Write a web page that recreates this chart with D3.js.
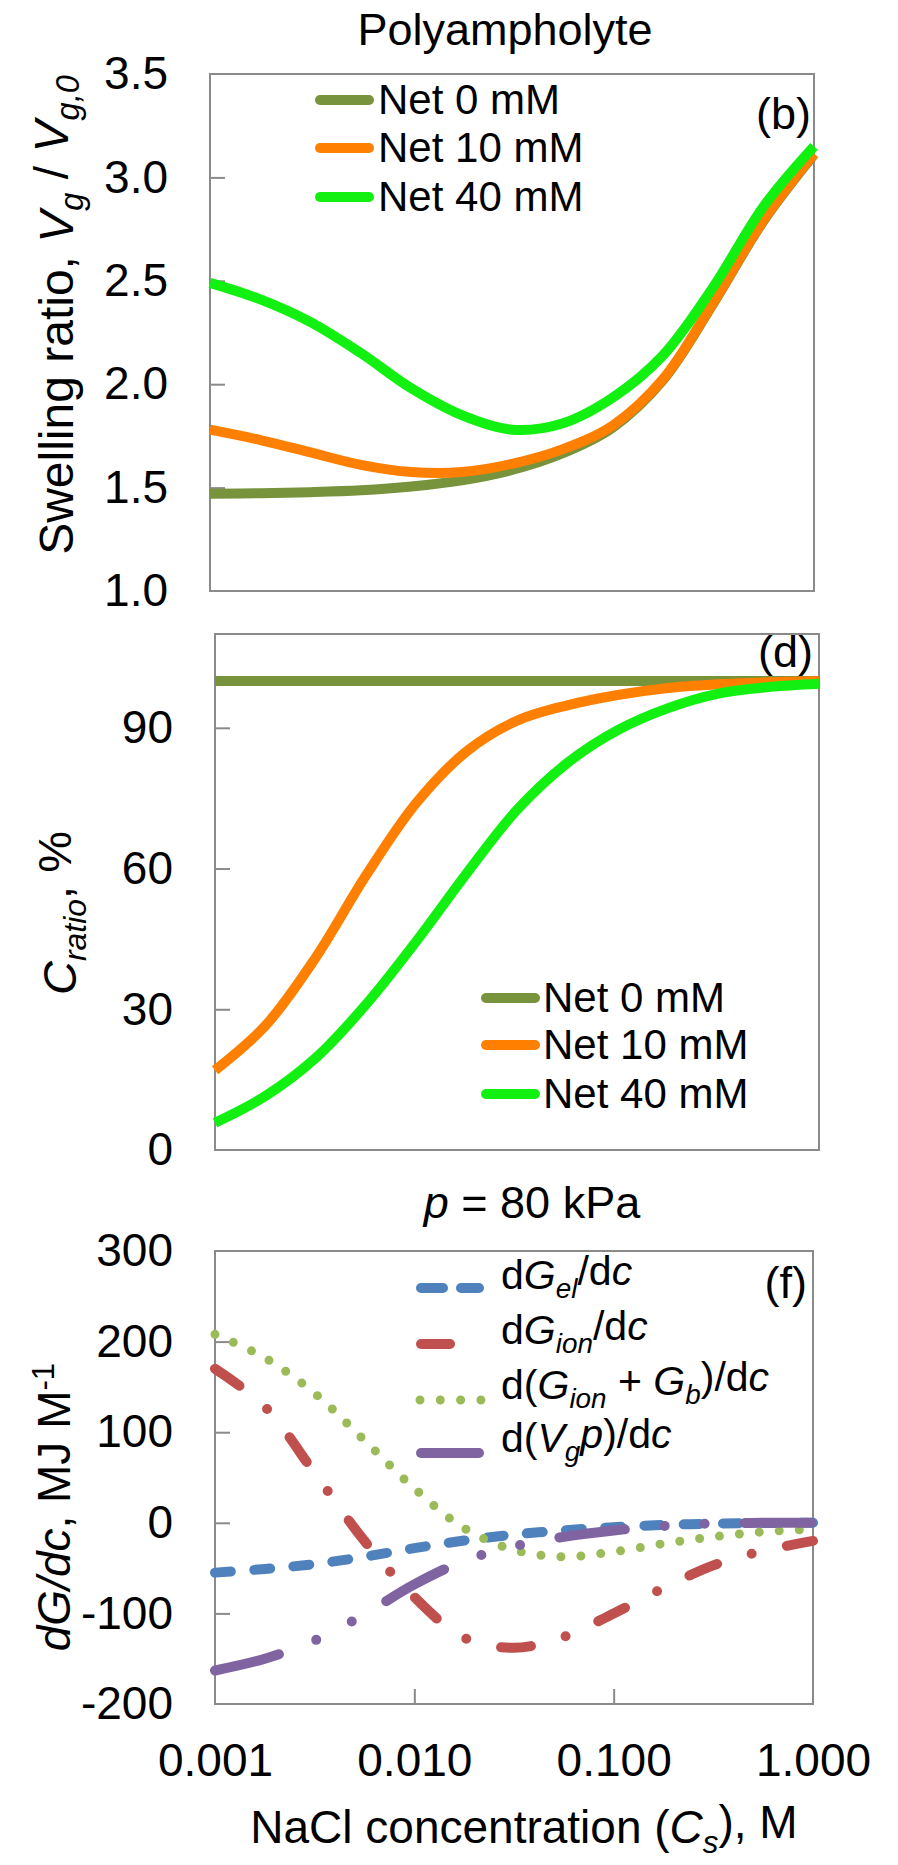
<!DOCTYPE html>
<html><head><meta charset="utf-8">
<script src="https://cdn.jsdelivr.net/npm/d3@7"></script>
<style>
body{margin:0;background:#fff}
svg{display:block;background:#fff}
text{font-family:"Liberation Sans",Arial,sans-serif;fill:#000}
</style>
</head><body>
<svg id="chart" width="898" height="1865"></svg>
<script>
// ---------- DATA ----------
const concentration = [0.001,0.00178,0.00316,0.00562,0.01,0.0178,0.0316,0.0562,0.1,0.178,0.316,0.562,1.0];

const swellNet0  = [1.47,1.473,1.478,1.487,1.505,1.535,1.585,1.665,1.79,2.02,2.39,2.79,3.11];
const swellNet10 = [1.78,1.73,1.67,1.61,1.575,1.575,1.615,1.685,1.80,2.025,2.395,2.795,3.115];
const swellNet40 = [2.49,2.41,2.30,2.15,1.98,1.85,1.78,1.81,1.935,2.14,2.47,2.86,3.15];

const cratioNet0  = [100,100,100,100,100,100,100,100,100,100,100,100,100];
const cratioNet10 = [17,26.5,41,58.5,74,85,91.5,94.8,97,98.5,99.3,99.7,100];
const cratioNet40 = [5.8,11.5,19.6,31,44.5,59,72.5,82.5,89.5,94.2,97.3,98.7,99.4];

const dGel    = [-55,-51,-45.5,-37.5,-28,-19.5,-13,-8.3,-4.8,-2.4,-0.9,-0.2,0];
const dGion   = [170,128,55,-20,-82,-127,-138,-126,-100,-72,-47,-31,-20];
const dGionGb = [208,182,143,91,38,-6,-30,-37.5,-32,-23,-15.5,-10,-7];
const dVgp    = [-163,-150,-130,-101,-68,-42,-26,-15.5,-8.5,-3.5,-0.8,0,0];

const netLabels = ["Net 0 mM","Net 10 mM","Net 40 mM"];
const swellTicks = [1.0,1.5,2.0,2.5,3.0,3.5];
const cratioTicks = [0,30,60,90];
const dgTicks = [-200,-100,0,100,200,300];
const xTicks = [0.001,0.01,0.1,1];

// ---------- STYLE ----------
const netColors = ["#77933C","#FF8000","#12F012"];
const frameColor = "#8a8a8a";
const svg = d3.select("#chart");

function rich(sel, parts){
  let shift = 0;
  parts.forEach(([t, st]) => {
    st = st || "";
    const sp = sel.append("tspan").text(t);
    if (st.includes("i")) sp.attr("font-style","italic");
    let target = 0;
    if (st.includes("sub")) { sp.attr("font-size","0.68em"); target = 0.32; }
    if (st.includes("sup")) { sp.attr("font-size","0.68em"); target = -0.5; }
    const dy = target - shift;
    if (dy !== 0) sp.attr("dy", dy + "em");
    shift = target;
  });
}

function frame(x0,x1,y0,y1){
  svg.append("rect").attr("x",x0).attr("y",y0).attr("width",x1-x0).attr("height",y1-y0)
    .attr("fill","none").attr("stroke",frameColor).attr("stroke-width",2);
}

function yAxis(y, x0, ticks, inner, fmt){
  const g = svg.append("g").attr("transform",`translate(${x0},0)`);
  g.call(d3.axisLeft(y).tickValues(ticks).tickSize(0).tickPadding(42).tickFormat(fmt));
  g.select(".domain").remove();
  g.selectAll("text").attr("font-size",46).attr("font-family",'"Liberation Sans",Arial,sans-serif');
  const t = svg.append("g").attr("transform",`translate(${x0},0)`);
  t.call(d3.axisLeft(y).tickValues(inner).tickSize(-15).tickFormat(""));
  t.select(".domain").remove();
  t.selectAll("line").attr("stroke",frameColor).attr("stroke-width",2);
}

function curve(x, y, vals, color, width, dash, cap){
  const line = d3.line().x((d,i)=>x(concentration[i])).y(d=>y(d)).curve(d3.curveCatmullRom.alpha(0.5));
  const p = svg.append("path").attr("d", line(vals)).attr("fill","none")
    .attr("stroke",color).attr("stroke-width",width);
  if (dash) p.attr("stroke-dasharray",dash);
  p.attr("stroke-linecap", cap || "butt");
  return p;
}

// ---------- PANEL (b) ----------
const xB = d3.scaleLog().domain([0.001,1]).range([210,814]);
const yB = d3.scaleLinear().domain([1,3.5]).range([591,74]);
frame(210,814,74,591);
yAxis(yB,210,swellTicks,[1.5,2.0,2.5,3.0],d3.format(".1f"));
[swellNet0,swellNet10,swellNet40].forEach((s,i)=>curve(xB,yB,s,netColors[i],10));

svg.append("text").attr("x",505).attr("y",45).attr("text-anchor","middle").attr("font-size",45).text("Polyampholyte");
svg.append("text").attr("x",811).attr("y",129).attr("text-anchor","end").attr("font-size",45).text("(b)");

const legB = [100,148,197];
netLabels.forEach((l,i)=>{
  svg.append("line").attr("x1",320).attr("x2",369).attr("y1",legB[i]).attr("y2",legB[i])
    .attr("stroke",netColors[i]).attr("stroke-width",10).attr("stroke-linecap","round");
  svg.append("text").attr("x",378).attr("y",legB[i]+14).attr("font-size",42).text(l);
});

const tB = svg.append("text").attr("transform","translate(73,315) rotate(-90)")
  .attr("text-anchor","middle").attr("font-size",48);
rich(tB,[["Swelling ratio, "],["V","i"],["g","i sub"],[" / "],["V","i"],["g,0","i sub"]]);

// ---------- PANEL (d) ----------
const xD = d3.scaleLog().domain([0.001,1]).range([215,819]);
const yD = d3.scaleLinear().domain([0,110]).range([1150,634]);
frame(215,819,634,1150);
yAxis(yD,215,cratioTicks,[30,60,90],d=>d);
[cratioNet0,cratioNet10,cratioNet40].forEach((s,i)=>curve(xD,yD,s,netColors[i],10));
svg.append("text").attr("x",813).attr("y",667).attr("text-anchor","end").attr("font-size",45).text("(d)");

const legD = [998,1045,1094];
netLabels.forEach((l,i)=>{
  svg.append("line").attr("x1",486).attr("x2",535).attr("y1",legD[i]).attr("y2",legD[i])
    .attr("stroke",netColors[i]).attr("stroke-width",10).attr("stroke-linecap","round");
  svg.append("text").attr("x",543).attr("y",legD[i]+14).attr("font-size",42).text(l);
});

const tD = svg.append("text").attr("transform","translate(76,913) rotate(-90)")
  .attr("text-anchor","middle").attr("font-size",47);
rich(tD,[["C","i"],["ratio","i sub"],[", %"]]);

// ---------- PANEL (f) ----------
const xF = d3.scaleLog().domain([0.001,1]).range([215,813]);
const yF = d3.scaleLinear().domain([-200,300]).range([1704,1251]);

const pT = svg.append("text").attr("x",532).attr("y",1218).attr("text-anchor","middle").attr("font-size",45);
rich(pT,[["p","i"],[" = 80 kPa"]]);

frame(215,813,1251,1704);
yAxis(yF,215,dgTicks,[-100,0,100,200],d=>String(d));

const gx = svg.append("g").attr("transform","translate(0,1704)");
gx.call(d3.axisBottom(xF).tickValues(xTicks).tickSize(0).tickPadding(39).tickFormat(d3.format(".3f")));
gx.select(".domain").remove();
gx.selectAll("text").attr("font-size",46).attr("font-family",'"Liberation Sans",Arial,sans-serif');
const gxt = svg.append("g").attr("transform","translate(0,1704)");
gxt.call(d3.axisBottom(xF).tickValues([0.01,0.1]).tickSize(-15).tickFormat(""));
gxt.select(".domain").remove();
gxt.selectAll("line").attr("stroke",frameColor).attr("stroke-width",2);

const fSeries = [
  {vals:dGel,   color:"#4F81BD", width:10, dash:"16 23.3"},
  {vals:dGion,  color:"#C0504D", width:10, dash:"30 36 0 36"},
  {vals:dGionGb,color:"#9BBB59", width:9,  dash:"0 20"},
  {vals:dVgp,   color:"#8064A2", width:10, dash:"66 40 0 40 0 40"}
];
fSeries.forEach(s=>curve(xF,yF,s.vals,s.color,s.width,s.dash,"round"));

svg.append("text").attr("x",807).attr("y",1298).attr("text-anchor","end").attr("font-size",45).text("(f)");

const legF = [1288,1344,1400,1453];
const legTextY = [1289,1344,1399,1452];
const legSym = [
  {x1:421,x2:479,dash:"22 18"},
  {x1:421,x2:450,dash:null},
  {x1:420,x2:482,dash:"0 20.3"},
  {x1:421,x2:479,dash:null}
];
const legText = [
  [["d"],["G","i"],["el","i sub"],["/d"],["c","i"]],
  [["d"],["G","i"],["ion","i sub"],["/d"],["c","i"]],
  [["d("],["G","i"],["ion","i sub"],[" + "],["G","i"],["b","i sub"],[")/d"],["c","i"]],
  [["d("],["V","i"],["g","i sub"],["p","i"],[")/d"],["c","i"]]
];
fSeries.forEach((s,i)=>{
  const l = svg.append("line").attr("x1",legSym[i].x1).attr("x2",legSym[i].x2)
    .attr("y1",legF[i]).attr("y2",legF[i]).attr("stroke",s.color).attr("stroke-width",s.width)
    .attr("stroke-linecap","round");
  if (legSym[i].dash) l.attr("stroke-dasharray",legSym[i].dash);
  const t = svg.append("text").attr("x",501).attr("y",legTextY[i]).attr("font-size",41);
  rich(t,legText[i]);
});

const tF = svg.append("text").attr("transform","translate(70,1507) rotate(-90)")
  .attr("text-anchor","middle").attr("font-size",46);
rich(tF,[["dG/dc","i"],[",  MJ M"],["-1","sup"]]);

const tX = svg.append("text").attr("x",524).attr("y",1843).attr("text-anchor","middle").attr("font-size",46);
rich(tX,[["NaCl concentration ("],["C","i"],["s","i sub"],["), M"]]);
</script>
</body></html>
